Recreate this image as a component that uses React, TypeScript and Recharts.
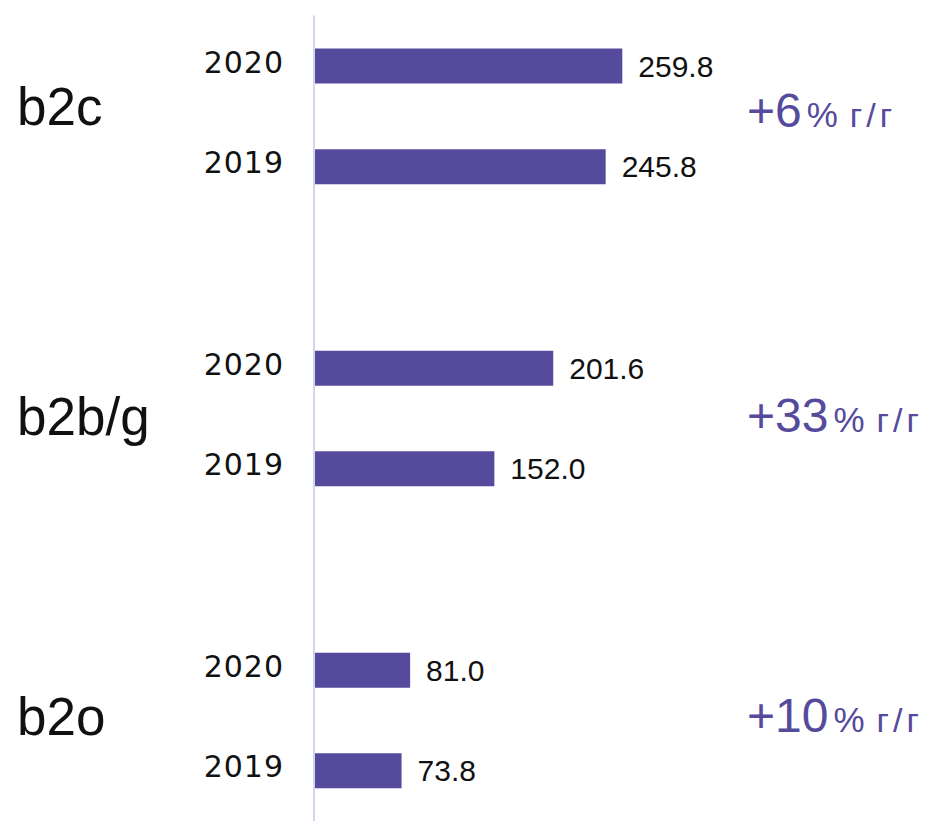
import React from 'react';
import { BarChart, Bar, XAxis, YAxis, LabelList } from 'recharts';

// ---- data ----
const rowIds = ['b2c-2020', 'b2c-2019', 'gap-1', 'b2bg-2020', 'b2bg-2019', 'gap-2', 'b2o-2020', 'b2o-2019'];
const yearLabels = ['2020', '2019', '', '2020', '2019', '', '2020', '2019'];
const revenueValues: (number | null)[] = [259.8, 245.8, null, 201.6, 152.0, null, 81.0, 73.8];
const segmentNames = ['b2c', 'b2b/g', 'b2o'];
const growthNumbers = ['+6', '+33', '+10'];
const growthPercent = '%';
const growthSuffix = 'г/г';
const segmentFirstRow = ['b2c-2020', 'b2bg-2020', 'b2o-2020'];

const chartData = rowIds.map((id, i) => ({ id, year: yearLabels[i], value: revenueValues[i] }));

// ---- style ----
const BAR_COLOR = '#564a9d';
const ACCENT = '#564a9d';
const AXIS_COLOR = '#cfd6ee';
const TEXT = '#111111';
const SANS = '"Liberation Sans", Arial, sans-serif';
const HALF_SLOT = 50.4;
const segmentNudge = [9, 17, 15];
const growthNudge = [11, 14, 12];

const YearTick = (props: any) => {
  const { x, y, payload } = props;
  const idx = rowIds.indexOf(payload.value);
  const year = idx >= 0 ? yearLabels[idx] : '';
  const seg = segmentFirstRow.indexOf(payload.value);
  return (
    <g>
      {year ? (
        <text
          x={x + 1}
          y={y - 4}
          dy="0.355em"
          textAnchor="end"
          fontFamily={'"DejaVu Sans", sans-serif'}
          fontSize={30}
          letterSpacing={1}
          fill={TEXT}
        >
          {year}
        </text>
      ) : null}
      {seg >= 0 ? (
        <>
          <text x={17} y={y + HALF_SLOT + segmentNudge[seg]} fontFamily={SANS} fontSize={53} fill={TEXT}>
            {segmentNames[seg]}
          </text>
          <text x={747} y={y + HALF_SLOT + growthNudge[seg]} fontFamily={SANS} fill={ACCENT}>
            <tspan fontSize={48}>{growthNumbers[seg]}</tspan>
            <tspan fontSize={35} dx={5}>{growthPercent}</tspan>
            <tspan fontSize={34} dx={12} letterSpacing={4}>{growthSuffix}</tspan>
          </text>
        </>
      ) : null}
    </g>
  );
};

const fmt = (v: any) => (v === null || v === undefined || v === '' ? '' : Number(v).toFixed(1));

export default function App() {
  return (
    <div style={{ position: 'absolute', left: 0, top: 0, width: 936, height: 822, background: '#fff' }}>
      <BarChart
        width={936}
        height={822}
        layout="vertical"
        data={chartData}
        margin={{ top: 15.6, right: 266, bottom: 1, left: 0 }}
        barCategoryGap={0}
      >
        <XAxis type="number" domain={[0, 300]} hide />
        <YAxis
          type="category"
          dataKey="id"
          width={314}
          axisLine={{ stroke: AXIS_COLOR, strokeWidth: 2 }}
          tickLine={false}
          tickSize={0}
          tickMargin={31}
          interval={0}
          tick={<YearTick />}
        />
        <Bar dataKey="value" fill={BAR_COLOR} barSize={35} isAnimationActive={false}>
          <LabelList
            dataKey="value"
            position="right"
            offset={16}
            formatter={fmt}
            fill={TEXT}
            fontSize={30}
            fontFamily={SANS}
          />
        </Bar>
      </BarChart>
    </div>
  );
}
